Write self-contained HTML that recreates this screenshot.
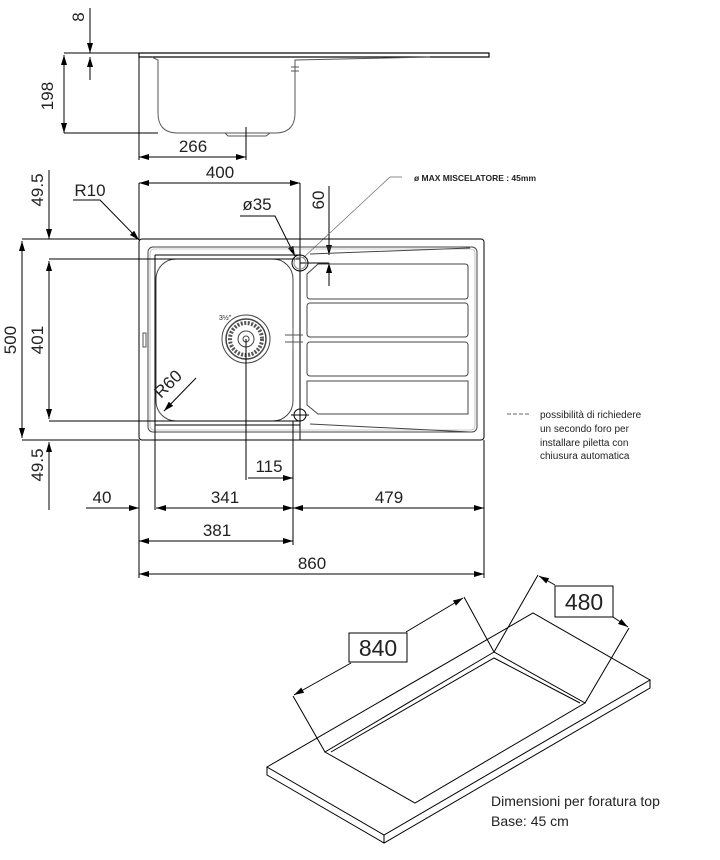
<!DOCTYPE html>
<html><head><meta charset="utf-8"><style>
html,body{margin:0;padding:0;background:#fff;}
svg{display:block;}
text{font-family:"Liberation Sans",sans-serif;fill:#222;}
.d{font-size:17px;fill:#333;}
</style></head><body>
<svg width="720" height="860" viewBox="0 0 720 860" xmlns="http://www.w3.org/2000/svg">
<defs>
<marker id="a" viewBox="0 0 10 6" refX="10" refY="3" markerWidth="10" markerHeight="6" orient="auto-start-reverse" markerUnits="userSpaceOnUse"><path d="M0,0 L10,3 L0,6z" fill="#000"/></marker>
</defs>
<g stroke="#000" stroke-width="1" fill="none">
<rect x="139" y="53" width="350" height="4" stroke-width="1.2"/>
<line x1="64" y1="53" x2="139" y2="53"/>
<path d="M152,57 L158,60 L158,113 Q158,133 178,133 L275,133 Q295,133 295,113 L295,60 L430,57" stroke="#555"/>
<path d="M225,133 L228,136 L266,136 L270,133" stroke="#555"/>
<path d="M291,67 L299,67 M291,71 L299,71 M295,60 L295,77" stroke="#555"/>
<line x1="90" y1="8" x2="90" y2="53" marker-end="url(#a)"/>
<line x1="90" y1="80" x2="90" y2="57" marker-end="url(#a)"/>
<line x1="64" y1="133" x2="158" y2="133"/>
<line x1="64" y1="55" x2="64" y2="133" marker-start="url(#a)" marker-end="url(#a)"/>
<line x1="139" y1="57" x2="139" y2="160"/>
<line x1="246" y1="127" x2="246" y2="160"/>
<line x1="139" y1="157" x2="246" y2="157" marker-start="url(#a)" marker-end="url(#a)"/>
<line x1="139" y1="183" x2="300" y2="183" marker-start="url(#a)" marker-end="url(#a)"/>
<line x1="300" y1="183" x2="300" y2="440"/>
<line x1="139" y1="183" x2="139" y2="240"/>
<line x1="49" y1="170" x2="49" y2="239" marker-end="url(#a)"/>
<path d="M73,200 L100,200 L139,240" marker-end="url(#a)"/>
<path d="M240,216 L275,216 L295,256" marker-end="url(#a)"/>
<line x1="329" y1="186" x2="329" y2="255" marker-end="url(#a)"/>
<line x1="329" y1="286" x2="329" y2="263" marker-end="url(#a)"/>
<line x1="300" y1="263" x2="329" y2="263"/>
<path d="M402,177 L390,177 L303,258" stroke="#666" stroke-width="0.7"/>
<rect x="139" y="239" width="345" height="201" rx="3"/>
<line x1="22" y1="239" x2="139" y2="239"/>
<line x1="22" y1="440" x2="139" y2="440"/>
<line x1="22" y1="241" x2="22" y2="438" marker-start="url(#a)" marker-end="url(#a)"/>
<rect x="148" y="247" width="329" height="185" rx="5" stroke="#444"/>
<rect x="150" y="249" width="325" height="181" rx="4" stroke="#999" stroke-width="0.6"/>
<rect x="156" y="259" width="137" height="162" rx="20" stroke="#444"/>
<line x1="155" y1="255" x2="300" y2="255"/>
<line x1="155" y1="425" x2="300" y2="425"/>
<line x1="155" y1="255" x2="155" y2="510"/>
<line x1="49" y1="259" x2="300" y2="259"/>
<line x1="49" y1="421" x2="300" y2="421"/>
<line x1="49" y1="261" x2="49" y2="419" marker-start="url(#a)" marker-end="url(#a)"/>
<line x1="49" y1="510" x2="49" y2="442" marker-end="url(#a)"/>
<path d="M310,254 L470,248 M310,424 L470,432" stroke="#444"/>
<path d="M318,264 L465,264 Q468,264 468,267 L468,296 Q468,299 465,299 L310,299 Q307,299 307,296 L307,274 Z" stroke="#444"/>
<rect x="307" y="303" width="161" height="34" rx="3" stroke="#444"/>
<rect x="307" y="342" width="161" height="34" rx="3" stroke="#444"/>
<path d="M307,381 L468,381 L468,414 L318,414 L307,405 Z" stroke="#444"/>
<circle cx="300" cy="263" r="8"/>
<circle cx="300" cy="263" r="6" stroke="#888"/>
<circle cx="300" cy="415" r="6"/>
<path d="M291,415 L309,415 M300,406 L300,425"/>
<rect x="143" y="333" width="3" height="14" stroke="#555"/>
<circle cx="246" cy="339" r="24" stroke="#444"/>
<circle cx="246" cy="339" r="20" stroke="#444" stroke-width="1.5"/>
<circle cx="246" cy="339" r="16" stroke="#555" stroke-dasharray="2 1.5" stroke-width="4"/>
<circle cx="246" cy="339" r="8" stroke="#444"/>
<circle cx="246" cy="339" r="3" stroke="#444"/>
<path d="M285,335 L303,335 M285,342 L303,342 M293,328 L293,349" stroke="#555"/>
<line x1="246" y1="339" x2="246" y2="480"/>
<line x1="293" y1="421" x2="293" y2="545"/>
<line x1="248" y1="478" x2="293" y2="478" marker-end="url(#a)"/>
<line x1="196" y1="378" x2="164" y2="411" marker-end="url(#a)"/>
<line x1="139" y1="440" x2="139" y2="578"/>
<line x1="484" y1="440" x2="484" y2="578"/>
<line x1="86" y1="508" x2="139" y2="508" marker-end="url(#a)"/>
<line x1="156" y1="508" x2="293" y2="508" marker-start="url(#a)" marker-end="url(#a)"/>
<line x1="293" y1="508" x2="484" y2="508" marker-start="url(#a)" marker-end="url(#a)"/>
<line x1="139" y1="541" x2="293" y2="541" marker-start="url(#a)" marker-end="url(#a)"/>
<line x1="139" y1="574" x2="484" y2="574" marker-start="url(#a)" marker-end="url(#a)"/>
<line x1="507" y1="414" x2="530" y2="414" stroke="#666" stroke-dasharray="4 2"/>
<path d="M267,767 L533,613 L650,680 L384,835 Z"/>
<path d="M267,767 L267,775 L384,843 L650,688 L650,680 M384,835 L384,843"/>
<path d="M494,652 L325,752 L415,803 L585,703 Z"/>
<path d="M331,752 L494,658 L580,703"/>
<path d="M325,752 L293,696 M494,652 L464,597"/>
<line x1="351" y1="663" x2="294" y2="695" marker-end="url(#a)"/>
<line x1="406" y1="632" x2="463" y2="598" marker-end="url(#a)"/>
<rect x="349" y="633" width="58" height="29"/>
<path d="M494,652 L538,575 M585,703 L629,628"/>
<line x1="555" y1="585" x2="539" y2="576" marker-end="url(#a)"/>
<line x1="613" y1="617" x2="628" y2="627" marker-end="url(#a)"/>
<rect x="555" y="586" width="58" height="31"/>
</g>
<g class="d">
<text x="84" y="17" transform="rotate(-90 84 17)" text-anchor="middle">8</text>
<text x="53" y="96" transform="rotate(-90 53 96)" text-anchor="middle">198</text>
<text x="193" y="152" text-anchor="middle">266</text>
<text x="220" y="178" text-anchor="middle">400</text>
<text x="43" y="190" transform="rotate(-90 43 190)" text-anchor="middle">49.5</text>
<text x="90" y="196" text-anchor="middle">R10</text>
<text x="257" y="210" text-anchor="middle">ø35</text>
<text x="324" y="200" transform="rotate(-90 324 200)" text-anchor="middle">60</text>
<text x="16" y="340" transform="rotate(-90 16 340)" text-anchor="middle">500</text>
<text x="43" y="340" transform="rotate(-90 43 340)" text-anchor="middle">401</text>
<text x="172" y="388" transform="rotate(-45 172 388)" text-anchor="middle">R60</text>
<text x="269" y="472" text-anchor="middle">115</text>
<text x="43" y="465" transform="rotate(-90 43 465)" text-anchor="middle">49.5</text>
<text x="102" y="503" text-anchor="middle">40</text>
<text x="225" y="503" text-anchor="middle">341</text>
<text x="389" y="503" text-anchor="middle">479</text>
<text x="217" y="536" text-anchor="middle">381</text>
<text x="312" y="569" text-anchor="middle">860</text>
<text x="378" y="656" text-anchor="middle" style="font-size:23px">840</text>
<text x="584" y="610" text-anchor="middle" style="font-size:23px">480</text>
</g>
<text x="219" y="320" style="font-size:7px">3½"</text>
<text x="414" y="181" style="font-size:8.5px;font-weight:bold">ø MAX MISCELATORE : 45mm</text>
<g style="font-size:10px">
<text x="540" y="418">possibilità di richiedere</text>
<text x="540" y="432">un secondo foro per</text>
<text x="540" y="446">installare piletta con</text>
<text x="540" y="459">chiusura automatica</text>
</g>
<text x="491" y="806" style="font-size:14px">Dimensioni per foratura top</text>
<text x="491" y="826" style="font-size:14px">Base: 45 cm</text>
</svg>
</body></html>
